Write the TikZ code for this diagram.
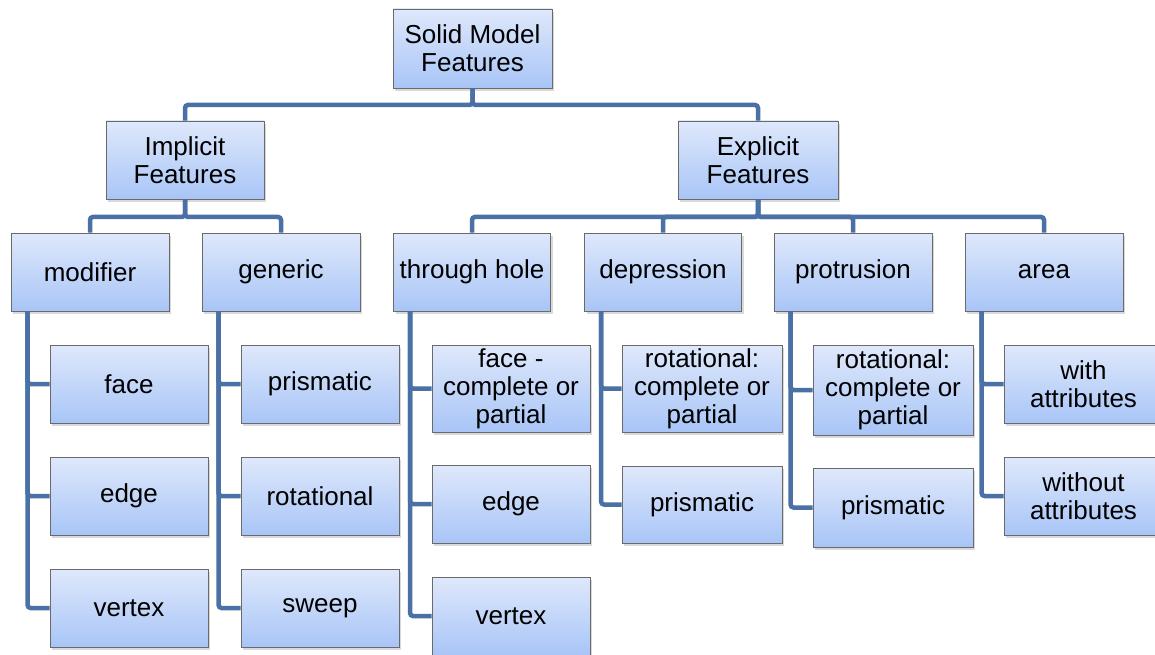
\documentclass[tikz,border=0pt]{standalone}
\usepackage{fontspec}
\setmainfont{Liberation Sans}
\usetikzlibrary{shadows,calc}
\definecolor{linkc}{HTML}{4A70A5}
\definecolor{boxtop}{HTML}{DFE8FB}
\definecolor{boxbot}{HTML}{A8C5F7}
\definecolor{boxedge}{HTML}{6A6A6A}
\tikzset{
  fbox/.style={draw=boxedge, line width=0.9pt, top color=boxtop, bottom color=boxbot,
    minimum width=158pt, minimum height=78pt, inner sep=0pt, align=center,
    font=\fontsize{26}{28}\selectfont,
    drop shadow={opacity=0.3, shadow xshift=2pt, shadow yshift=-3pt}},
  link/.style={draw=linkc, line width=4.5pt, rounded corners=3pt}
}
\begin{document}
\begin{tikzpicture}[x=1pt,y=-1pt]
\useasboundingbox (0,0) rectangle (1155,655);
% level 0 and 1
\node[fbox, minimum width=159pt, minimum height=79pt] (solid) at (472.5,48.5) {Solid Model\\Features};
\node[fbox] (impl) at (185,160) {Implicit\\Features};
\node[fbox, minimum width=160pt] (expl) at (758,160) {Explicit\\Features};
% level 2
\node[fbox] (modi) at (90,272) {modifier};
\node[fbox] (gene) at (281,272) {generic};
\node[fbox, minimum width=157pt] (thru) at (472,272) {through hole};
\node[fbox, minimum width=157pt] (depr) at (663,272) {depression};
\node[fbox] (prot) at (853,272) {protrusion};
\node[fbox] (area) at (1044,272) {area};
% level 3 - modifier
\node[fbox] (mface) at (129,384) {face};
\node[fbox] (medge) at (129,496) {edge};
\node[fbox] (mvert) at (129,608) {vertex};
% generic
\node[fbox] (gpris) at (320,384) {prismatic};
\node[fbox] (grota) at (320,496) {rotational};
\node[fbox] (gswee) at (320,608) {sweep};
% through hole
\node[fbox, minimum height=87pt] (tface) at (511,388.5) {face -\\complete or\\partial};
\node[fbox] (tedge) at (511,504) {edge};
\node[fbox] (tvert) at (511,616) {vertex};
% depression
\node[fbox, minimum width=160pt, minimum height=87pt] (drota) at (702,388.5) {rotational:\\complete or\\partial};
\node[fbox, minimum width=160pt, minimum height=77pt] (dpris) at (702,504.5) {prismatic};
% protrusion
\node[fbox, minimum width=160pt, minimum height=90pt] (prota) at (893,390) {rotational:\\complete or\\partial};
\node[fbox, minimum width=160pt, minimum height=79pt] (ppris) at (893,507.5) {prismatic};
% area
\node[fbox, minimum width=159pt] (awith) at (1083.5,384) {with\\attributes};
\node[fbox, minimum width=159pt] (awout) at (1083.5,496) {without\\attributes};

% connectors top
\draw[link] (solid.south) -- ++(0,16.5) -| (impl.north);
\draw[link] (solid.south) -- ++(0,16.5) -| (expl.north);
\draw[link] (impl.south) -- ++(0,17.5) -| (modi.north);
\draw[link] (impl.south) -- ++(0,17.5) -| (gene.north);
\foreach \c in {thru,depr,prot,area}
  \draw[link] (expl.south) -- ++(0,17.5) -| (\c.north);
% connectors to children
\foreach \p/\c in {modi/mface,modi/medge,modi/mvert,gene/gpris,gene/grota,gene/gswee,
  thru/tface,thru/tedge,thru/tvert,depr/drota,depr/dpris,prot/prota,prot/ppris,
  area/awith,area/awout}
  \draw[link] ($(\p.south west)+(17,0)$) |- (\c.west);
\end{tikzpicture}
\end{document}
